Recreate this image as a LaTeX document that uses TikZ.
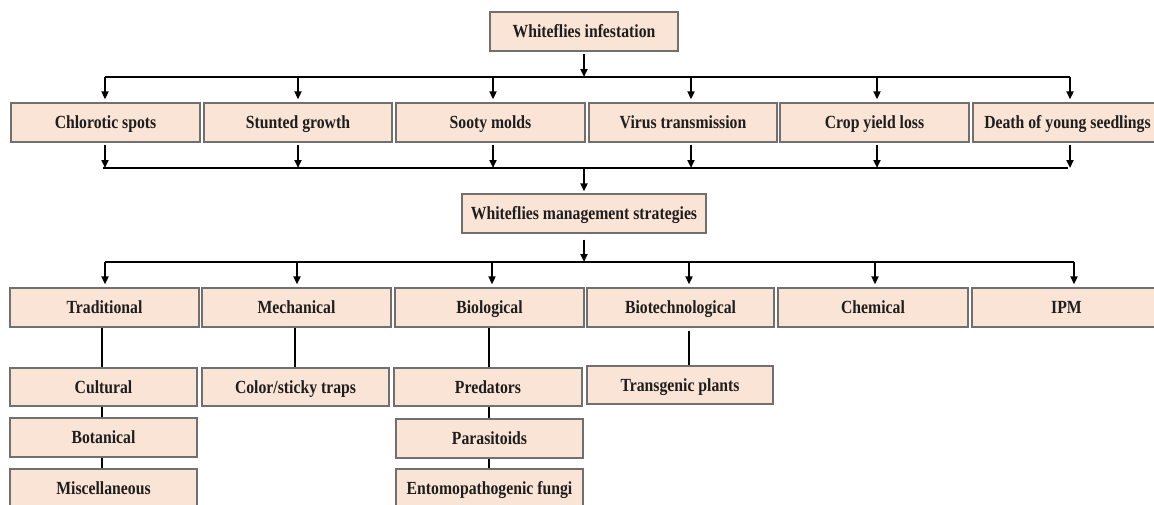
\documentclass[tikz,border=0pt]{standalone}
\usepackage{fontspec}
\setmainfont{Liberation Serif}[FakeStretch=0.85]
\usetikzlibrary{arrows.meta}
\definecolor{boxfill}{HTML}{FAE4D6}
\definecolor{boxline}{HTML}{707070}
\definecolor{ink}{HTML}{1E1E1E}
\tikzset{
  box/.style={draw=boxline, line width=1.4pt, fill=boxfill, inner sep=0pt,
    minimum height=39pt, minimum width=189pt, text=ink,
    text height=12.5pt, text depth=0pt,
    font=\fontsize{18.5}{21}\selectfont\bfseries},
  conn/.style={draw=black, line width=2pt},
  arr/.style={conn, -{Triangle[length=8pt,width=7pt]}},
}
\begin{document}
\begin{tikzpicture}[x=1pt,y=-1pt]
\clip (0,0) rectangle (1154,504);
\fill[white] (0,0) rectangle (1154,504);
% top
\node[box, minimum width=188pt] (inf) at (584,31.5) {Whiteflies infestation};
% row 1
\node[box] (c1) at (105.5,122.5) {Chlorotic spots};
\node[box, minimum width=188pt] (c2) at (298,122.5) {Stunted growth};
\node[box] (c3) at (490.5,122.5) {Sooty molds};
\node[box, minimum width=188pt] (c4) at (683,122.5) {Virus transmission};
\node[box] (c5) at (874.5,122.5) {Crop yield loss};
\node[box] (c6) at (1067.5,122.5) {Death of young seedlings};
% management
\node[box, minimum width=244pt] (mg) at (584,213.5) {Whiteflies management strategies};
% row 3
\node[box] (t1) at (104.5,307.5) {Traditional};
\node[box] (t2) at (296.5,307.5) {Mechanical};
\node[box] (t3) at (489.5,307.5) {Biological};
\node[box, minimum width=187pt] (t4) at (680.5,307.5) {Biotechnological};
\node[box, minimum width=190pt] (t5) at (873,307.5) {Chemical};
\node[box] (t6) at (1066.5,307.5) {IPM};
% row 4
\node[box, minimum width=187pt, minimum height=38pt] (cu) at (103.5,387) {Cultural};
\node[box, minimum width=187pt] (bo) at (103.5,437.5) {Botanical};
\node[box, minimum width=187pt] (mi) at (103.5,488.5) {Miscellaneous};
\node[box, minimum width=187pt, minimum height=38pt] (cs) at (295.5,387) {Color/sticky traps};
\node[box, minimum width=188pt, minimum height=38pt] (pr) at (488,387) {Predators};
\node[box, minimum width=187pt] (pa) at (489.5,438.5) {Parasitoids};
\node[box, minimum width=187pt] (en) at (489.5,488.5) {Entomopathogenic fungi};
\node[box, minimum width=186pt, minimum height=38pt] (tr) at (680,385) {Transgenic plants};
% buses
\coordinate (b1) at (584,77);
\coordinate (b2) at (584,168);
\coordinate (b3) at (584,262);
% infestation -> effects
\draw[arr, shorten <=2pt] (inf.south) -- (b1);
\draw[conn, line join=round] ([xshift=-0.5pt]c1.north |- b1) -- ([xshift=2.5pt]c6.north |- b1);
\foreach \n/\s in {c1/-0.5, c2/0, c3/2.5, c4/8, c5/2.5, c6/2.5}
  \draw[arr, shorten >=3pt] ([xshift=\s pt]\n.north |- b1) -- ([xshift=\s pt]\n.north);
% effects -> bus 2
\draw[conn] ([xshift=-2.5pt]c1.south |- b2) -- ([xshift=0.5pt]c6.south |- b2);
\foreach \n/\s in {c1/-0.5, c2/0, c3/2.5, c4/8, c5/2.5, c6/2.5}
  \draw[arr, shorten <=2pt] ([xshift=\s pt]\n.south) -- ([xshift=\s pt]\n.south |- b2);
\draw[arr, shorten >=2pt] (b2) -- (mg.north -| b2);
% management -> strategies
\draw[arr, shorten <=6pt] (mg.south) -- (b3);
\draw[conn] ([xshift=0.5pt]t1.north |- b3) -- ([xshift=7.5pt]t6.north |- b3);
\foreach \n/\s in {t1/0.5, t2/0.5, t3/2.5, t4/8.5, t5/2, t6/7.5}
  \draw[arr, shorten >=3pt] ([xshift=\s pt]\n.north |- b3) -- ([xshift=\s pt]\n.north);
% sub-branches
\draw[conn] ([xshift=-2.5pt]t1.south) -- ([xshift=-1.5pt]cu.north);
\draw[conn] ([xshift=-1.5pt]cu.south) -- ([xshift=-1.5pt]bo.north);
\draw[conn] ([xshift=-1.5pt]bo.south) -- ([xshift=-1.5pt]mi.north);
\draw[conn] ([xshift=-1.5pt]t2.south) -- ([xshift=-0.5pt]cs.north);
\draw[conn] ([xshift=-0.5pt]t3.south) -- ([xshift=1pt]pr.north);
\draw[conn] ([xshift=1pt]pr.south) -- ([xshift=-0.5pt]pa.north);
\draw[conn] ([xshift=-0.5pt]pa.south) -- ([xshift=-0.5pt]en.north);
\draw[conn, shorten <=3pt] ([xshift=8.5pt]t4.south) -- ([xshift=9pt]tr.north);
\end{tikzpicture}
\end{document}
